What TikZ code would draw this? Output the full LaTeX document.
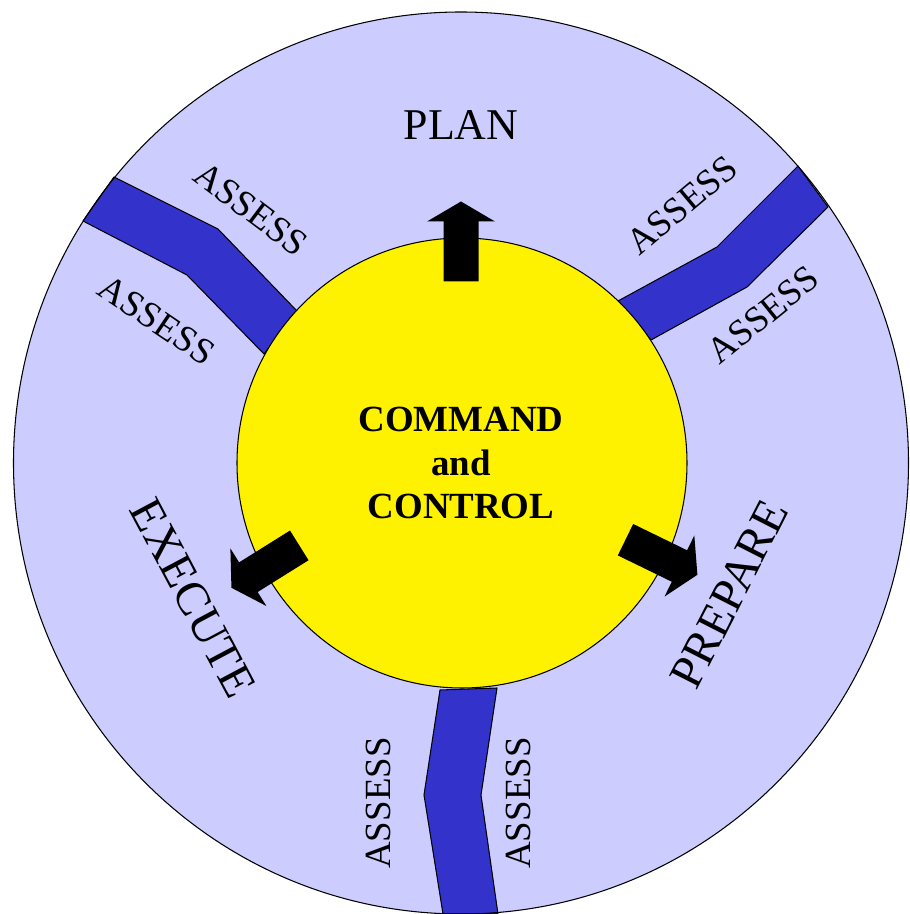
\documentclass[tikz,border=0pt]{standalone}
\usepackage{fontspec}
\setmainfont{Liberation Serif}
\usetikzlibrary{calc}

\definecolor{ringLilac}{RGB}{204,204,255}
\definecolor{bandBlue}{RGB}{51,51,204}

\begin{document}
\begin{tikzpicture}[line cap=round, line join=round]

% ---------- styles (safe names) ----------
\tikzset{
  ccRing/.style   ={fill=ringLilac},
  ccEdge/.style   ={draw, line width=0.6pt},
  ccBand/.style   ={draw, line width=0.6pt, fill=bandBlue},
  ccCore/.style   ={draw, line width=0.6pt, fill=yellow},
  ccArrow/.style  ={fill=black},
  ccPhase/.style  ={font=\fontsize{27}{32}\selectfont},
  ccAssess/.style ={font=\fontsize{21}{25}\selectfont},
  ccTitle/.style  ={font=\fontsize{21}{25}\selectfont\bfseries, align=center}
}

% Page frame
\useasboundingbox (-9.22,-9.02) rectangle (8.96,9.26);

% ---------- outer ring ----------
\path[ccRing] (0,0) ellipse [x radius=8.95, y radius=9.02];

% ---------- assess bands ----------
% upper left
\path[ccBand]
  (-6.94,5.72) -- (-4.86,4.68) -- (-3.28,3.04) --
  (-3.94,2.18) -- (-5.48,3.76) -- (-7.56,4.84) -- cycle;
% upper right
\path[ccBand]
  (6.74,5.94) -- (5.12,4.32) -- (3.14,3.24) --
  (3.80,2.46) -- (5.72,3.52) -- (7.34,5.12) -- cycle;
% bottom
\path[ccBand]
  (-0.42,-4.54) -- (-0.74,-6.64) -- (-0.36,-9.02) --
  (0.74,-9.02) -- (0.40,-6.64) -- (0.72,-4.50) -- cycle;

% Ring outline over the band ends
\path[ccEdge] (0,0) ellipse [x radius=8.95, y radius=9.02];

% ---------- command and control core ----------
\path[ccCore] (0.02,0) circle (4.5);
\node[ccTitle] (ccCenter) at (0,0) {COMMAND\\and\\CONTROL};

% ---------- block arrows (start angle / heading) ----------
\foreach \ang/\dir in {90/90, 207/212, -25/-26}
  \path[ccArrow, shift={(\ang:3.63)}, rotate=\dir]
    (0,-0.35) -- (1.2,-0.35) -- (1.2,-0.68) -- (1.6,0) --
    (1.2,0.68) -- (1.2,0.35) -- (0,0.35) -- cycle;

% ---------- phase labels ----------
\node[font=\fontsize{25}{30}\selectfont] (plan) at (0,6.76) {PLAN};
\node[ccPhase, rotate=-62] (execute) at (-5.36,-2.70) {EXECUTE};
\node[ccPhase, rotate=63]  (prepare) at (5.36,-2.62) {PREPARE};

% ---------- assess labels ----------
\node[ccAssess, rotate=-37] (assessNW) at (-4.20,5.08) {ASSESS};
\node[ccAssess, rotate=-34] (assessW)  at (-6.08,2.86) {ASSESS};
\node[ccAssess, rotate=40]  (assessNE) at (4.42,5.16)  {ASSESS};
\node[ccAssess, rotate=39]  (assessE)  at (6.04,2.96)  {ASSESS};
\node[ccAssess, rotate=90]  (assessSW) at (-1.66,-6.80) {ASSESS};
\node[ccAssess, rotate=90]  (assessSE) at (1.14,-6.80)  {ASSESS};

\end{tikzpicture}
\end{document}
